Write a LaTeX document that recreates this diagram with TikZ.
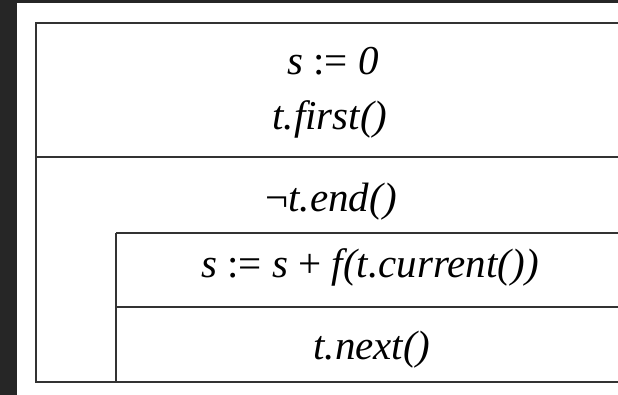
\documentclass[tikz,border=0pt]{standalone}
\usepackage{fontspec}
\setmainfont{Liberation Serif}
\begin{document}
\begin{tikzpicture}[x=1pt,y=1pt,
  rule/.style={draw=black!80,line width=2pt},
  txt/.style={anchor=base,inner sep=0pt,font=\fontsize{41}{48}\selectfont}]
\useasboundingbox (0,0) rectangle (618,395);
\fill[black!85] (0,0) rectangle (618,395);
\fill[white] (17,0) rectangle (618,392);
% frame
\draw[rule] (618,372) -- (36,372) -- (36,13) -- (618,13);
\draw[rule] (36,238) -- (618,238);
\draw[rule] (116,162) -- (618,162);
\draw[rule] (116,87.5) -- (618,87.5);
\draw[rule] (116,162) -- (116,13);
% texts
\node[txt] (init1) at (333,320) {\textit{s} := \textit{0}};
\node[txt] (init2) at (330,265) {\textit{t.first()}};
\node[txt] (cond) at (331,183) {¬\textit{t.end}\textit{()}};
\node[txt] (body1) at (370,117) {\textit{s} := \textit{s} + \textit{f(t.current())}};
\node[txt] (body2) at (372,35) {\textit{t.next()}};
\end{tikzpicture}
\end{document}
